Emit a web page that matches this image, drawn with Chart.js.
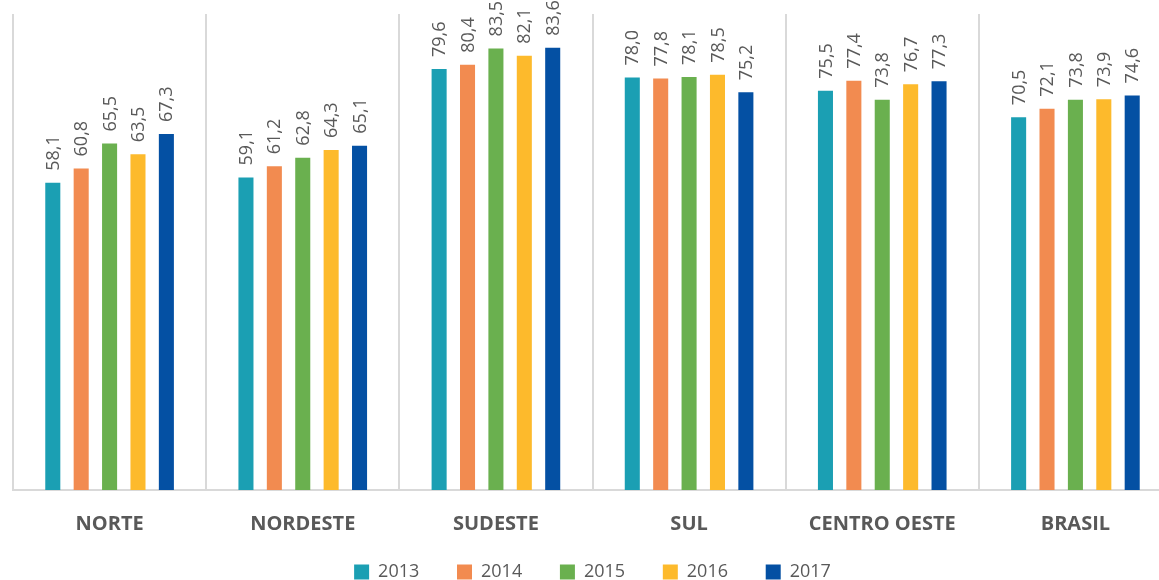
<!DOCTYPE html>
<html>
<head>
<meta charset="utf-8">
<script src="https://cdn.jsdelivr.net/npm/chart.js@4"></script>
<style>
  html, body { margin: 0; padding: 0; background: #fff; overflow: hidden; }
  #wrap { width: 1185px; height: 591px; position: relative; }
</style>
</head>
<body>
<div id="wrap"><canvas id="chart"></canvas></div>
<script>
// categories and yearly values
const regions = ['NORTE', 'NORDESTE', 'SUDESTE', 'SUL', 'CENTRO OESTE', 'BRASIL'];
const years = ['2013', '2014', '2015', '2016', '2017'];
const v2013 = [58.1, 59.1, 79.6, 78.0, 75.5, 70.5];
const v2014 = [60.8, 61.2, 80.4, 77.8, 77.4, 72.1];
const v2015 = [65.5, 62.8, 83.5, 78.1, 73.8, 73.8];
const v2016 = [63.5, 64.3, 82.1, 78.5, 76.7, 73.9];
const v2017 = [67.3, 65.1, 83.6, 75.2, 77.3, 74.6];
const colors = ['#1B9FB3', '#F28B50', '#6AB04F', '#FDBA2C', '#0450A3'];

const series = [v2013, v2014, v2015, v2016, v2017];

// value labels, written vertically above each bar
const barLabels = {
  id: 'barLabels',
  afterDatasetsDraw(chart) {
    const ctx = chart.ctx;
    ctx.save();
    ctx.font = '18px "Open Sans", sans-serif';
    ctx.fillStyle = '#595959';
    ctx.textAlign = 'left';
    ctx.textBaseline = 'middle';
    chart.data.datasets.forEach((ds, i) => {
      chart.getDatasetMeta(i).data.forEach((bar, j) => {
        const txt = ds.data[j].toFixed(1).replace('.', ',');
        ctx.save();
        ctx.translate(bar.x + 1, bar.y - 12);
        ctx.rotate(-Math.PI / 2);
        ctx.fillText(txt, 0, 0);
        ctx.restore();
      });
    });
    ctx.restore();
  }
};

document.addEventListener('DOMContentLoaded', function() {
  const ctx = document.getElementById('chart');
  new Chart(ctx, {
    type: 'bar',
    data: {
      labels: regions,
      datasets: years.map((y, i) => ({
        label: y,
        data: series[i],
        backgroundColor: colors[i],
        barPercentage: 0.53,
        categoryPercentage: 0.735
      }))
    },
    options: {
      responsive: true,
      maintainAspectRatio: false,
      animation: false,
      layout: { padding: { left: 13, right: 13, top: 14, bottom: 0 } },
      plugins: {
        legend: {
          position: 'bottom',
          labels: {
            boxWidth: 15,
            boxHeight: 15,
            padding: 5,
            color: '#595959',
            font: { family: '"Open Sans", sans-serif', size: 18 },
            generateLabels(chart) {
              // extra spaces keep the items as far apart as in the picture
              const items = Chart.defaults.plugins.legend.labels.generateLabels(chart);
              items.forEach((it, k) => {
                if (k < items.length - 1) it.text = it.text + '       ';
              });
              return items;
            }
          }
        },
        tooltip: { enabled: false }
      },
      scales: {
        x: {
          grid: { display: true, color: '#D9D9D9', lineWidth: 2, drawTicks: false },
          border: { display: true, color: '#D9D9D9', width: 2 },
          ticks: {
            color: '#595959',
            padding: 22,
            font: { family: '"Open Sans", sans-serif', size: 20, weight: 'bold' }
          }
        },
        y: {
          display: false,
          min: 0,
          max: 90
        }
      }
    },
    plugins: [barLabels]
  });
});
</script>
</body>
</html>
